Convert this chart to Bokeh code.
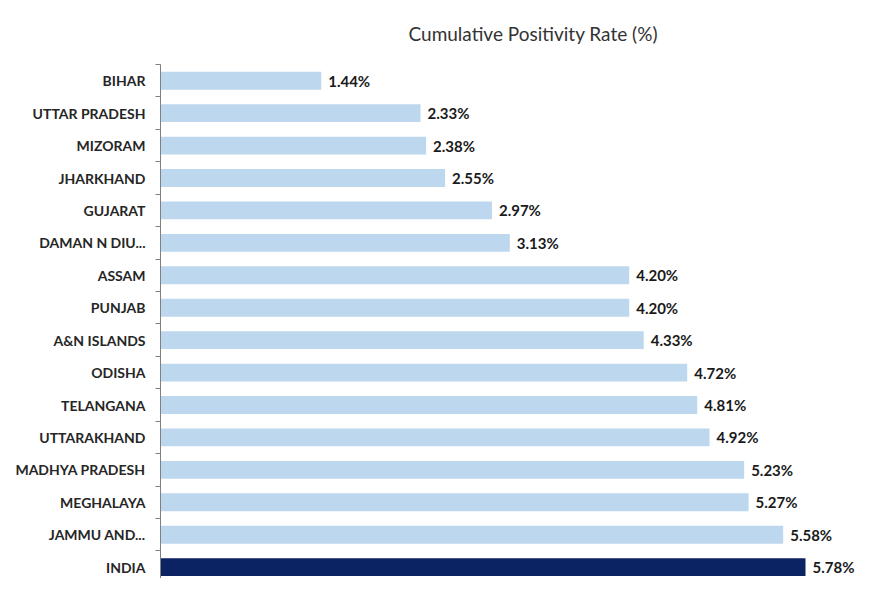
from bokeh.plotting import figure
from bokeh.models import Range1d, FixedTicker, ColumnDataSource
from bokeh.core.properties import value
from bokeh.embed import file_html
from bokeh.resources import INLINE

states = ["BIHAR", "UTTAR PRADESH", "MIZORAM", "JHARKHAND", "GUJARAT", "DAMAN N DIU...",
          "ASSAM", "PUNJAB", "A&N ISLANDS", "ODISHA", "TELANGANA", "UTTARAKHAND",
          "MADHYA PRADESH", "MEGHALAYA", "JAMMU AND...", "INDIA"]
rates = [1.44, 2.33, 2.38, 2.55, 2.97, 3.13, 4.20, 4.20, 4.33, 4.72, 4.81, 4.92,
         5.23, 5.27, 5.58, 5.78]
title_text = "Cumulative Positivity Rate (%)"

n = len(states)
ypos = [n - 1 - i for i in range(n)]
colors = ["#0B2263" if s == "INDIA" else "#BDD7EE" for s in states]
labels = [f"{v:.2f}%" for v in rates]

src = ColumnDataSource(dict(y=ypos, v=rates, c=colors, lab=labels, name=states))

p = figure(width=855, height=578, output_backend="svg", toolbar_location=None,
           x_range=Range1d(0, 6.228), y_range=Range1d(-0.35, 15.5),
           min_border_left=160, min_border_right=0, min_border_top=64, min_border_bottom=0)

p.hbar(y="y", left=0, right="v", height=0.55, fill_color="c", line_color=None, source=src)
p.text(x="v", y="y", text="lab", source=src, x_offset=7, text_align="left",
       text_baseline="middle", text_font=value("Lato"), text_font_style="bold",
       text_font_size="15px", text_color="#1a1a1a")

p.title.text = title_text
p.title.align = "left"
p.title.offset = 248
p.title.standoff = 35
p.title.vertical_align = "top"
p.title.text_font = "Lato"
p.title.text_font_style = "normal"
p.title.text_font_size = "19px"
p.title.text_color = "#333333"

p.xaxis.visible = False
p.xgrid.visible = False
p.ygrid.visible = False
p.outline_line_color = None

ax = p.yaxis[0]
ax.ticker = FixedTicker(ticks=ypos, minor_ticks=[i + 0.5 for i in range(-1, n)])
ax.major_label_overrides = {yv: s for yv, s in zip(ypos, states)}
ax.major_tick_line_color = None
ax.major_tick_out = 0
ax.major_tick_in = 0
ax.minor_tick_out = 5
ax.minor_tick_in = 0
ax.minor_tick_line_color = "#808080"
ax.axis_line_color = "#808080"
ax.major_label_standoff = 10
ax.major_label_text_font = "Lato"
ax.major_label_text_font_style = "bold"
ax.major_label_text_font_size = "14px"
ax.major_label_text_color = "#262626"

open("out.html", "w").write(file_html(p, INLINE))
